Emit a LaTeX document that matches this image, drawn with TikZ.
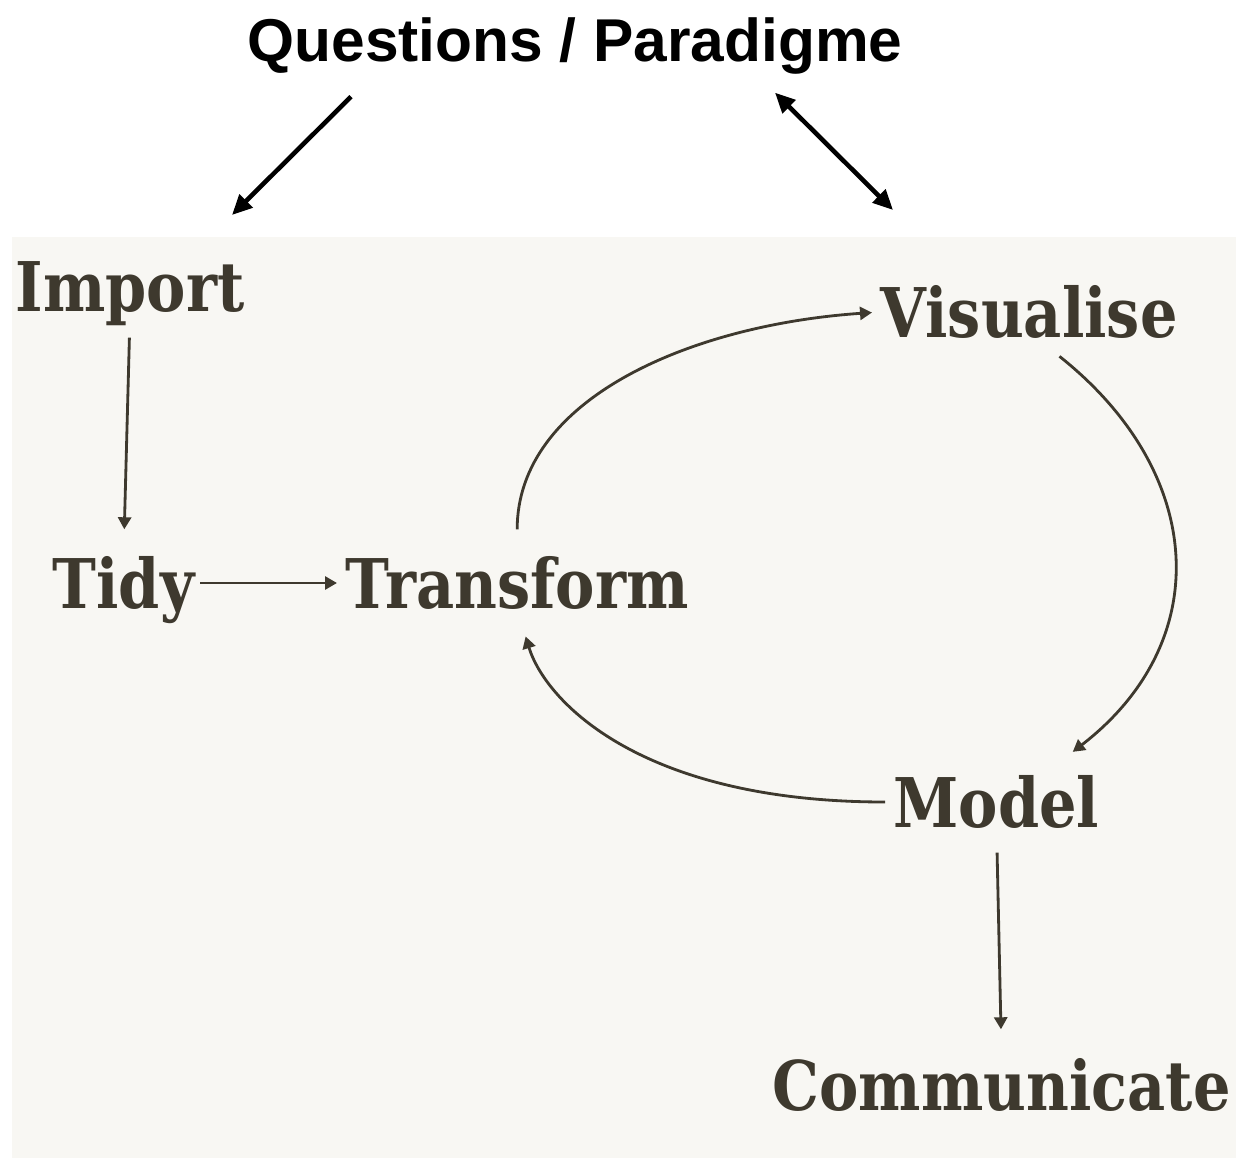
\documentclass[tikz,border=0pt]{standalone}
\usepackage{fontspec}
\usetikzlibrary{arrows.meta}
\newfontfamily\etapefont[FakeStretch=0.86]{DejaVu Serif}
\newfontfamily\titrefont{Liberation Sans}
\definecolor{encre}{HTML}{3E392E}
\definecolor{papier}{HTML}{F8F7F3}
\begin{document}
\begin{tikzpicture}[
  etape/.style={anchor=base west, inner sep=0pt, text height=5mm, text depth=0pt,
    text=encre, font=\etapefont\bfseries\fontsize{19.5}{20}\selectfont},
  titre/.style={anchor=base, inner sep=0pt, text height=4.3mm, text depth=0pt,
    font=\titrefont\bfseries\fontsize{17.2}{18}\selectfont},
  fleche/.style={-{Triangle[length=1.2mm,width=1.3mm]}, draw=encre, line width=0.8pt},
  grandefleche/.style={-{Triangle[length=2mm,width=1.8mm]}, line width=1.3pt}]
  %Cadre
  \useasboundingbox (0,0) rectangle (12.36,-11.58);
  \fill[papier] (0.12,-2.37) rectangle (12.36,-11.58); %Fond beige
  %Titre
  \node[titre] (titre) at (5.75,-0.62) {Questions / Paradigme};
  \coordinate (versimport) at (2.32,-2.15);
  \coordinate (versvisu) at (8.93,-2.10);
  \draw[grandefleche] ([xshift=-2.24cm,yshift=-0.34cm]titre.south) -- (versimport); %Fleche gauche
  \draw[grandefleche, {Triangle[length=2mm,width=1.8mm]}-{Triangle[length=2mm,width=1.8mm]}]
    ([xshift=2cm,yshift=-0.30cm]titre.south) -- (versvisu); %Fleche double
  %Etapes
  \node[etape] (import) at (0.15,-3.12) {Import};
  \node[etape] (tidy) at (0.52,-6.08) {Tidy};
  \node[etape] (transform) at (3.45,-6.08) {Transform};
  \node[etape] (visualise) at (8.80,-3.37) {Visualise};
  \node[etape] (model) at (8.93,-8.27) {Model};
  \node[etape] (communicate) at (7.72,-11.10) {Communicate};
  %Fleches
  \draw[fleche, shorten <=0.25cm, shorten >=0.28cm] (import.south) -- (tidy.north);
  \draw[fleche, shorten <=0.05cm, shorten >=0.08cm] (tidy.east) -- (transform.west);
  \draw[fleche, shorten <=0.28cm, shorten >=0.08cm] (transform.north)
    .. controls +(0,1.58) and +(-1.9,-0.13) .. (visualise.west); %Vers visualise
  \draw[fleche, shorten <=0.30cm, shorten >=0.40cm] (visualise.-75)
    .. controls +(1.7,-1.35) and +(1.75,1.35) .. (model.30); %Boucle droite
  \draw[fleche, shorten <=0.08cm, shorten >=0.29cm] (model.west)
    .. controls +(-2.53,0) and +(0.28,-0.92) .. (transform.south); %Retour
  \draw[fleche, shorten <=0.25cm, shorten >=0.30cm] (model.south) -- (communicate.north);
\end{tikzpicture}
\end{document}
